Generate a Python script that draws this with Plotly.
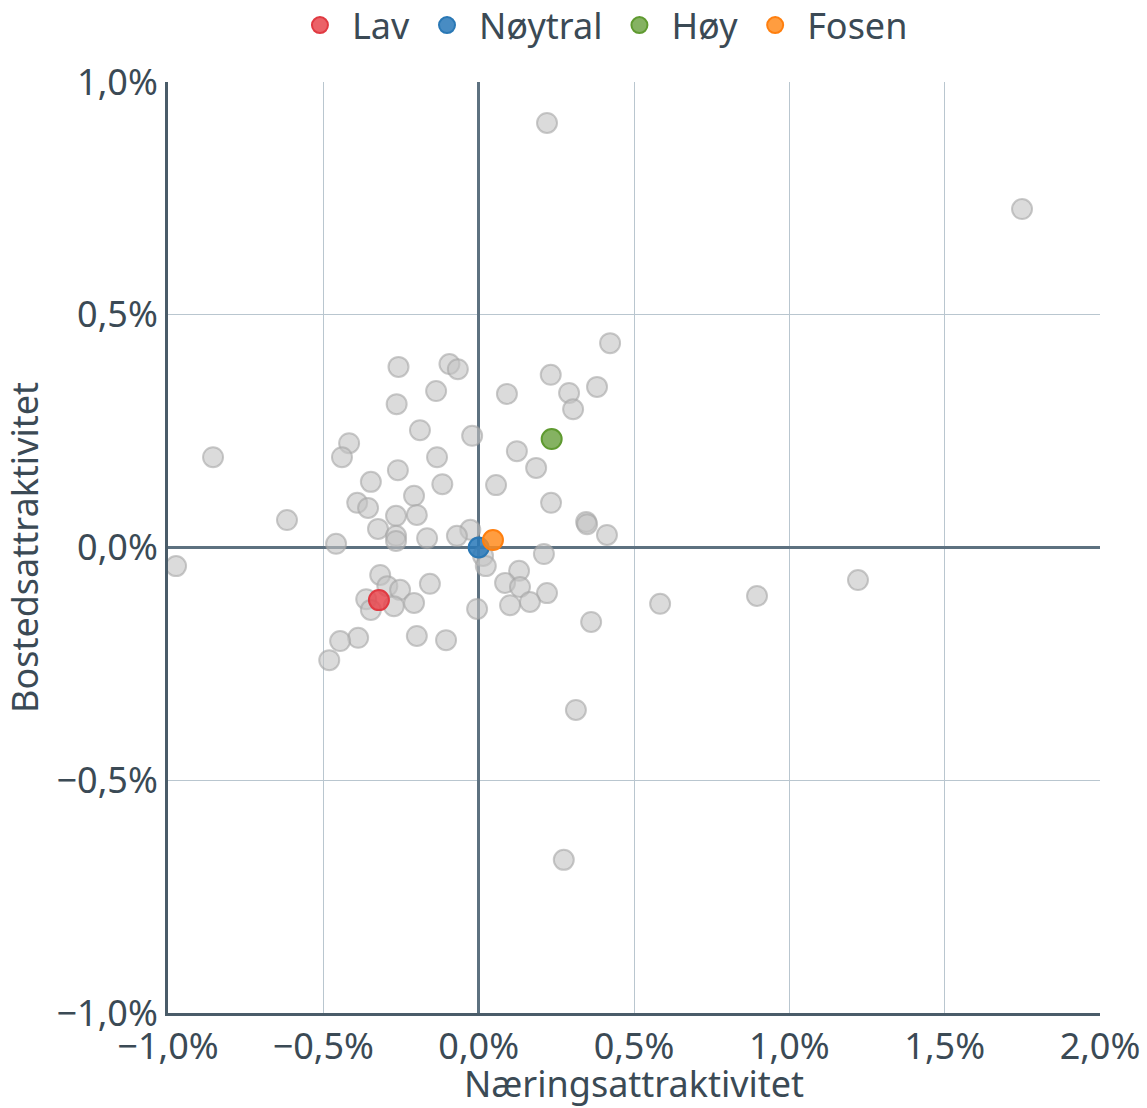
import plotly.graph_objects as go

# Grey background municipalities (Næringsattraktivitet %, Bostedsattraktivitet %)
other_x = [0.22, 1.749, 0.423, -0.258, -0.094, -0.067, 0.232, 0.381, 0.291, -0.137,
           0.091, 0.304, -0.264, -0.189, -0.021, -0.417, 0.123, -0.855, -0.440, -0.134,
           0.185, -0.260, -0.347, -0.117, 0.056, -0.208, -0.391, 0.233, -0.356, -0.199,
           -0.266, 0.346, 0.349, -0.617, -0.324, -0.027, 0.413, -0.266, -0.070, -0.166,
           -0.459, -0.266, -0.974, 0.014, 0.023, 0.210, -0.317, 0.130, 1.221, 0.085,
           -0.157, -0.294, 0.133, -0.253, 0.220, 0.896, -0.362, -0.273, -0.208, 0.165,
           0.101, 0.584, -0.347, -0.005, 0.362, -0.199, -0.388, -0.105, -0.446, -0.481,
           0.313, 0.274]
other_y = [0.912, 0.727, 0.439, 0.388, 0.394, 0.383, 0.371, 0.345, 0.332, 0.336,
           0.330, 0.297, 0.308, 0.252, 0.240, 0.224, 0.207, 0.194, 0.194, 0.194,
           0.171, 0.166, 0.141, 0.136, 0.134, 0.111, 0.096, 0.096, 0.085, 0.070,
           0.068, 0.055, 0.050, 0.059, 0.040, 0.038, 0.027, 0.025, 0.025, 0.020,
           0.008, 0.014, -0.040, -0.018, -0.040, -0.014, -0.059, -0.050, -0.070, -0.076,
           -0.078, -0.083, -0.085, -0.091, -0.098, -0.104, -0.111, -0.126, -0.119, -0.117,
           -0.124, -0.121, -0.134, -0.132, -0.160, -0.190, -0.194, -0.199, -0.201, -0.242,
           -0.349, -0.671]

# Highlighted series
series_names = ["Lav", "Nøytral", "Høy", "Fosen"]
series_x = [-0.321, 0.0, 0.235, 0.046]
series_y = [-0.113, 0.0, 0.233, 0.016]
series_fill = ["rgba(232,70,78,0.85)", "rgba(40,120,185,0.85)", "rgba(112,165,70,0.85)", "rgba(255,140,30,0.85)"]
series_line = ["#e03a42", "#2a78b5", "#5f9a30", "#ff7f0e"]

x_ticks = [-1.0, -0.5, 0.0, 0.5, 1.0, 1.5, 2.0]
x_ticktext = ["\u22121,0%", "\u22120,5%", "0,0%", "0,5%", "1,0%", "1,5%", "2,0%"]
y_ticks = [-1.0, -0.5, 0.0, 0.5, 1.0]
y_ticktext = ["\u22121,0%", "\u22120,5%", "0,0%", "0,5%", "1,0%"]

TEXT = "#3b4a55"
FS = 36

fig = go.Figure()
fig.add_trace(go.Scatter(
    x=other_x, y=other_y, mode="markers", showlegend=False, hoverinfo="x+y",
    marker=dict(size=20, color="rgba(195,195,195,0.6)",
                line=dict(color="rgba(165,165,165,0.6)", width=2)),
))
for n, x, y, f, l in zip(series_names, series_x, series_y, series_fill, series_line):
    fig.add_trace(go.Scatter(
        x=[x], y=[y], mode="markers", name=n,
        marker=dict(size=20, color=f, line=dict(color=l, width=2)),
    ))

axis_common = dict(
    showgrid=True, gridcolor="#b9c6cf", gridwidth=1,
    zeroline=True, zerolinecolor="#5d7180", zerolinewidth=2.5,
    showline=True, linecolor="#4a5c69", linewidth=3,
    ticks="",
    tickfont=dict(family="Noto Sans", size=FS, color=TEXT),
    title_font=dict(family="Noto Sans", size=FS, color=TEXT),
    automargin=False,
)

fig.update_layout(
    width=1147, height=1108,
    paper_bgcolor="white", plot_bgcolor="white",
    font=dict(family="Noto Sans", size=FS, color=TEXT),
    margin=dict(l=168, r=47, t=82, b=95, autoexpand=False),
    xaxis=dict(range=[-1.0, 2.0], tickvals=x_ticks, ticktext=x_ticktext,
               title=dict(text="Næringsattraktivitet", standoff=3), **axis_common),
    yaxis=dict(range=[-1.0, 1.0], tickvals=y_ticks, ticktext=y_ticktext,
               title=dict(text="Bostedsattraktivitet", standoff=8), **axis_common),
    legend=dict(orientation="h", x=0.464, xanchor="center", y=1.061, yanchor="middle",
                font=dict(family="Noto Sans", size=FS, color=TEXT), itemwidth=54),
)

fig.write_html(
    "out.html",
    config={"displayModeBar": False},
    post_script="document.body.style.margin='0';document.body.style.overflow='hidden';",
)
